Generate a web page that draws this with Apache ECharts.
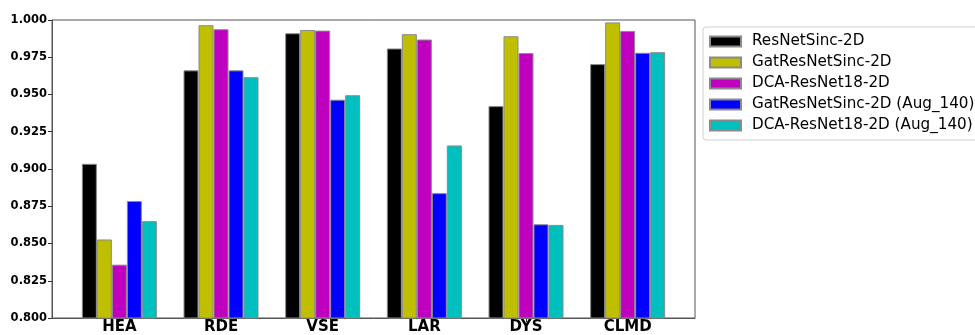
<!DOCTYPE html>
<html>
<head>
<meta charset="utf-8">
<script src="https://cdn.jsdelivr.net/npm/echarts@6/dist/echarts.min.js"></script>
<style>html,body{margin:0;padding:0;background:#fff}#c{width:975px;height:335px}</style>
</head>
<body>
<div id="c"></div>
<script>
const categories = ['HEA', 'RDE', 'VSE', 'LAR', 'DYS', 'CLMD'];
const seriesNames = ['ResNetSinc-2D', 'GatResNetSinc-2D', 'DCA-ResNet18-2D', 'GatResNetSinc-2D (Aug_140)', 'DCA-ResNet18-2D (Aug_140)'];
const colors = ['#000000', '#bfbf00', '#bf00bf', '#0000ff', '#00bfbf'];
const resNetSinc = [0.9035, 0.9662, 0.9911, 0.9809, 0.9422, 0.9704];
const gatResNetSinc = [0.8527, 0.9965, 0.9933, 0.9905, 0.9891, 0.9984];
const dcaResNet18 = [0.8358, 0.9938, 0.9929, 0.9869, 0.9778, 0.9927];
const gatResNetSincAug = [0.8785, 0.9662, 0.9465, 0.8838, 0.8629, 0.9780];
const dcaResNet18Aug = [0.8650, 0.9616, 0.9495, 0.9158, 0.8625, 0.9784];
const yTicks = [0.800, 0.825, 0.850, 0.875, 0.900, 0.925, 0.950, 0.975, 1.000];
const allValues = [resNetSinc, gatResNetSinc, dcaResNet18, gatResNetSincAug, dcaResNet18Aug];

const chart = echarts.init(document.getElementById('c'), null, {renderer: 'canvas'});
const catIdx = categories.map((c, i) => i);
chart.setOption({
  animation: false,
  backgroundColor: '#fff',
  grid: {left: 52, right: 280, top: 20, bottom: 15, show: true, borderColor: '#555', borderWidth: 1, containLabel: false},
  legend: {
    orient: 'vertical', left: 703, top: 27,
    data: seriesNames.map(n => ({name: n, icon: 'rect'})),
    itemWidth: 31, itemHeight: 10, itemGap: 6,
    padding: [7, 20, 7, 6],
    borderColor: '#d0d0d0', borderWidth: 1, borderRadius: 3,
    backgroundColor: '#fff',
    textStyle: {fontFamily: 'DejaVu Sans', fontSize: 15.2, color: '#000', padding: [0, 0, 0, 6], lineHeight: 14}
  },
  xAxis: {
    type: 'value', min: -0.6625, max: 5.6625,
    splitLine: {show: false},
    axisLine: {show: true, onZero: false, lineStyle: {color: '#555', width: 1}},
    axisTick: {show: true, customValues: catIdx, length: 4, lineStyle: {color: '#333'}},
    axisLabel: {customValues: catIdx, formatter: v => categories[Math.round(v)], fontFamily: 'DejaVu Sans', fontWeight: 'bold', fontSize: 15, color: '#000', margin: 2}
  },
  yAxis: {
    type: 'value', min: 0.8, max: 1.0, interval: 0.025,
    splitLine: {show: false},
    axisLine: {show: true, onZero: false, lineStyle: {color: '#555', width: 1}},
    axisTick: {show: true, length: 4, lineStyle: {color: '#333'}},
    axisLabel: {formatter: v => v.toFixed(3), fontFamily: 'DejaVu Sans', fontWeight: 'bold', fontSize: 11.5, color: '#000', margin: 5}
  },
  series: seriesNames.map((name, s) => ({
    name: name,
    type: 'bar',
    barWidth: 15,
    barGap: '0%',
    itemStyle: {color: colors[s], borderColor: '#8a8a8a', borderWidth: 1},
    data: allValues[s].map((v, i) => [i, v])
  }))
});
</script>
</body>
</html>
